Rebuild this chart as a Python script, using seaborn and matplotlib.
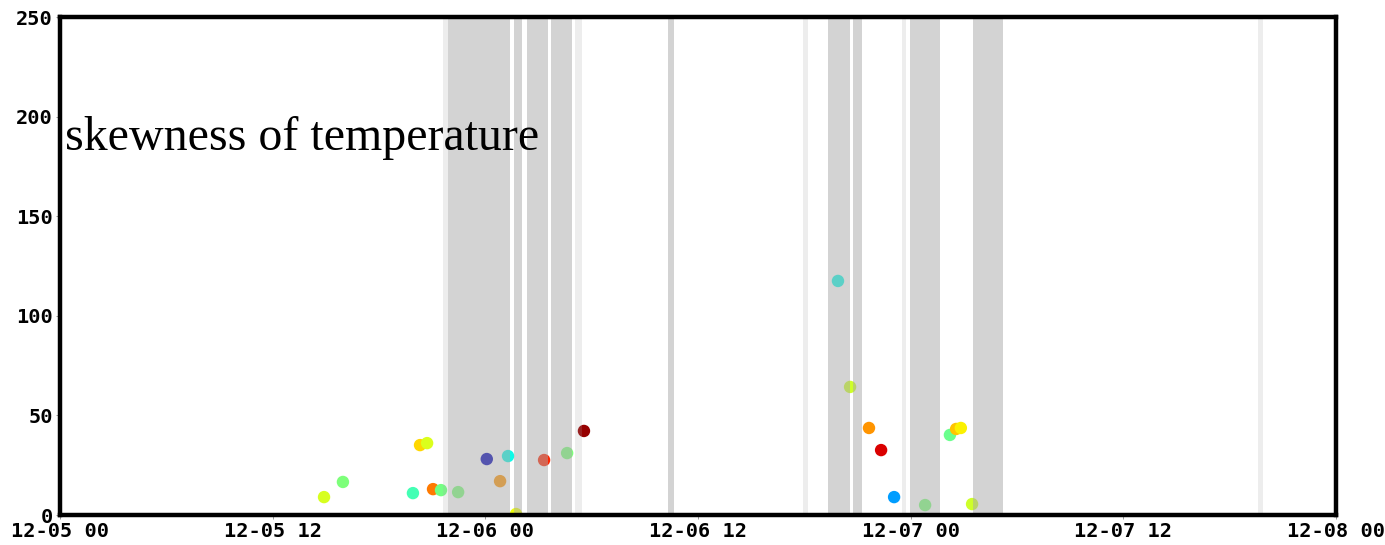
import matplotlib
matplotlib.use("Agg")
import matplotlib.pyplot as plt
import matplotlib.dates as mdates
import numpy as np
import pandas as pd
import seaborn as sns

# ---- data -------------------------------------------------------------
times = [
    "2020-12-05 14:54", "2020-12-05 15:58", "2020-12-05 19:55", "2020-12-05 20:19",
    "2020-12-05 20:43", "2020-12-05 21:03", "2020-12-05 21:30", "2020-12-05 22:28",
    "2020-12-06 00:05", "2020-12-06 00:50", "2020-12-06 01:17", "2020-12-06 01:44",
    "2020-12-06 03:19", "2020-12-06 04:37", "2020-12-06 05:34", "2020-12-06 19:54",
    "2020-12-06 20:35", "2020-12-06 21:39", "2020-12-06 22:20", "2020-12-06 23:04",
    "2020-12-07 00:49", "2020-12-07 02:13", "2020-12-07 02:34", "2020-12-07 02:50",
    "2020-12-07 03:28",
]
skewness = [
    9.0, 16.6, 11.0, 35.1, 36.1, 13.0, 12.5, 11.5,
    28.1, 17.0, 29.6, 0.5, 27.6, 31.1, 42.2, 117.5,
    64.3, 43.7, 32.6, 9.0, 5.0, 40.2, 43.2, 43.7, 5.5,
]
color_value = [
    0.61, 0.50, 0.43, 0.68, 0.615, 0.78, 0.49, 0.50,
    0.05, 0.75, 0.37, 0.64, 0.87, 0.50, 0.98, 0.37,
    0.60, 0.75, 0.92, 0.28, 0.50, 0.48, 0.70, 0.655, 0.60,
]

shaded_start = ["2020-12-05 21:54", "2020-12-06 01:36", "2020-12-06 02:21",
                "2020-12-06 03:42", "2020-12-06 10:18", "2020-12-06 19:20",
                "2020-12-06 20:45", "2020-12-06 23:58", "2020-12-07 03:31"]
shaded_end = ["2020-12-06 01:24", "2020-12-06 02:04", "2020-12-06 03:32",
              "2020-12-06 04:53", "2020-12-06 10:39", "2020-12-06 20:35",
              "2020-12-06 21:15", "2020-12-07 01:39", "2020-12-07 05:13"]
faint_start = ["2020-12-05 21:36", "2020-12-06 05:04", "2020-12-06 17:56",
               "2020-12-06 23:31", "2020-12-07 19:36"]
faint_end = ["2020-12-05 21:53", "2020-12-06 05:27", "2020-12-06 18:12",
             "2020-12-06 23:44", "2020-12-07 19:53"]

y_ticks = [0, 50, 100, 150, 200, 250]
x_start, x_end = "2020-12-05 00:00", "2020-12-08 00:00"
title_text = "skewness of temperature"

# ---- plot -------------------------------------------------------------
df = pd.DataFrame({"time": pd.to_datetime(times), "skew": skewness, "c": color_value})

fig = plt.figure(figsize=(13.85, 5.45), dpi=100)
ax = fig.add_axes([0.0433, 0.055, 0.9213, 0.9138])

sns.scatterplot(data=df, x="time", y="skew", hue="c",
                palette=matplotlib.colormaps["jet"],
                hue_norm=(0, 1), s=80, linewidth=0, legend=False, ax=ax, zorder=2)

for s, e in zip(shaded_start, shaded_end):
    ax.axvspan(pd.Timestamp(s), pd.Timestamp(e), color=(0.66, 0.66, 0.66),
               alpha=0.5, lw=0, zorder=3)
for s, e in zip(faint_start, faint_end):
    ax.axvspan(pd.Timestamp(s), pd.Timestamp(e), color=(0.66, 0.66, 0.66),
               alpha=0.2, lw=0, zorder=3)

ax.set_xlim(pd.Timestamp(x_start), pd.Timestamp(x_end))
ax.set_ylim(y_ticks[0], y_ticks[-1])
ax.set_yticks(y_ticks)
ax.xaxis.set_major_locator(mdates.HourLocator(byhour=[0, 12]))
ax.xaxis.set_major_formatter(mdates.DateFormatter("%m-%d %H"))
ax.set_xlabel("")
ax.set_ylabel("")

for sp in ax.spines.values():
    sp.set_linewidth(3.2)
    sp.set_color("black")
    sp.set_zorder(5)

ax.tick_params(axis="both", length=3, width=0.6, color="#888888", pad=2)
for lab in ax.get_xticklabels() + ax.get_yticklabels():
    lab.set_family("DejaVu Sans Mono")
    lab.set_fontweight("bold")
    lab.set_fontsize(14.6)

ax.text(0.004, 0.733, title_text, transform=ax.transAxes, ha="left", va="baseline",
        fontsize=34.5, family="Liberation Serif", color="black", zorder=6)

fig.savefig("out.png", dpi=100)
